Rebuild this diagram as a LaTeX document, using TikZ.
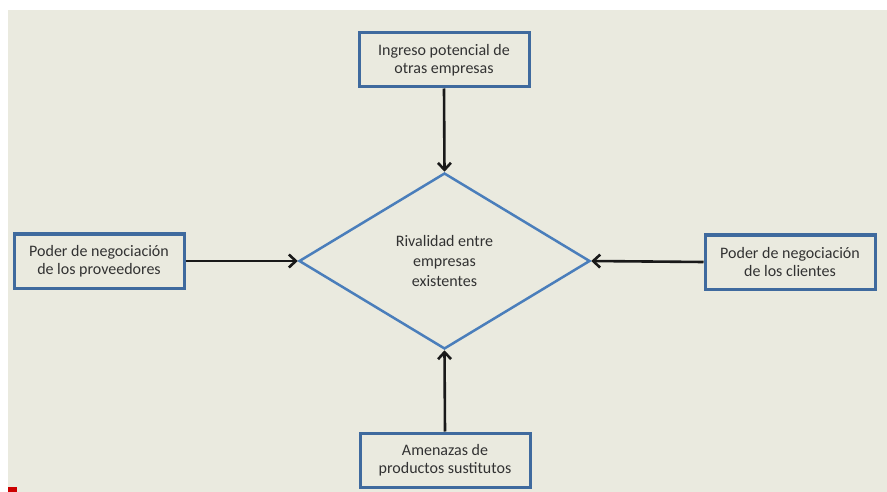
\documentclass[tikz,border=0pt]{standalone}
\usepackage{fontspec}
\setmainfont{Carlito}
\usetikzlibrary{shapes.geometric,arrows.meta}
\begin{document}
\begin{tikzpicture}[x=1pt,y=-1pt,font=\fontsize{16}{18}\selectfont,
  caja/.style={draw=azul,line width=3pt,fill=fondo,minimum width=170pt,minimum height=54pt,align=center,text=gris,inner sep=2pt},
  flecha/.style={line width=2.6pt,draw=negro,-{Straight Barb[length=7pt,width=13pt,line width=2.6pt]}}]
\definecolor{fondo}{RGB}{234,234,223}
\definecolor{azul}{RGB}{63,106,158}
\definecolor{rombo}{RGB}{74,126,187}
\definecolor{gris}{RGB}{50,50,50}
\definecolor{negro}{RGB}{25,25,25}
\useasboundingbox (0,0) rectangle (887,492);
\fill[white] (0,0) rectangle (887,492);
\fill[fondo] (8,10) rectangle (887,492);
\fill[red!80!black] (8,487) rectangle (17,492);
% fuerzas
\node[caja] (entrantes) at (444,60) {Ingreso potencial de\\otras empresas};
\node[caja] (proveedores) at (99,261) {Poder de negociación\\de los proveedores};
\node[caja] (clientes) at (790,262) {Poder de negociación\\de los clientes};
\node[caja] (sustitutos) at (445,460) {Amenazas de\\productos sustitutos};
\node[diamond,draw=rombo,line width=2.5pt,minimum width=291pt,minimum height=176pt,
  inner sep=0pt,align=center,text=gris,font=\fontsize{16}{20}\selectfont] (rivalidad) at (444.5,261)
  {Rivalidad entre\\empresas\\existentes};
\draw[flecha] (entrantes.south) -- (rivalidad.north);
\draw[flecha] (sustitutos.north) -- (rivalidad.south);
\draw[flecha] (proveedores.east) -- (rivalidad.west);
\draw[flecha] (clientes.west) -- (rivalidad.east);
\end{tikzpicture}
\end{document}
